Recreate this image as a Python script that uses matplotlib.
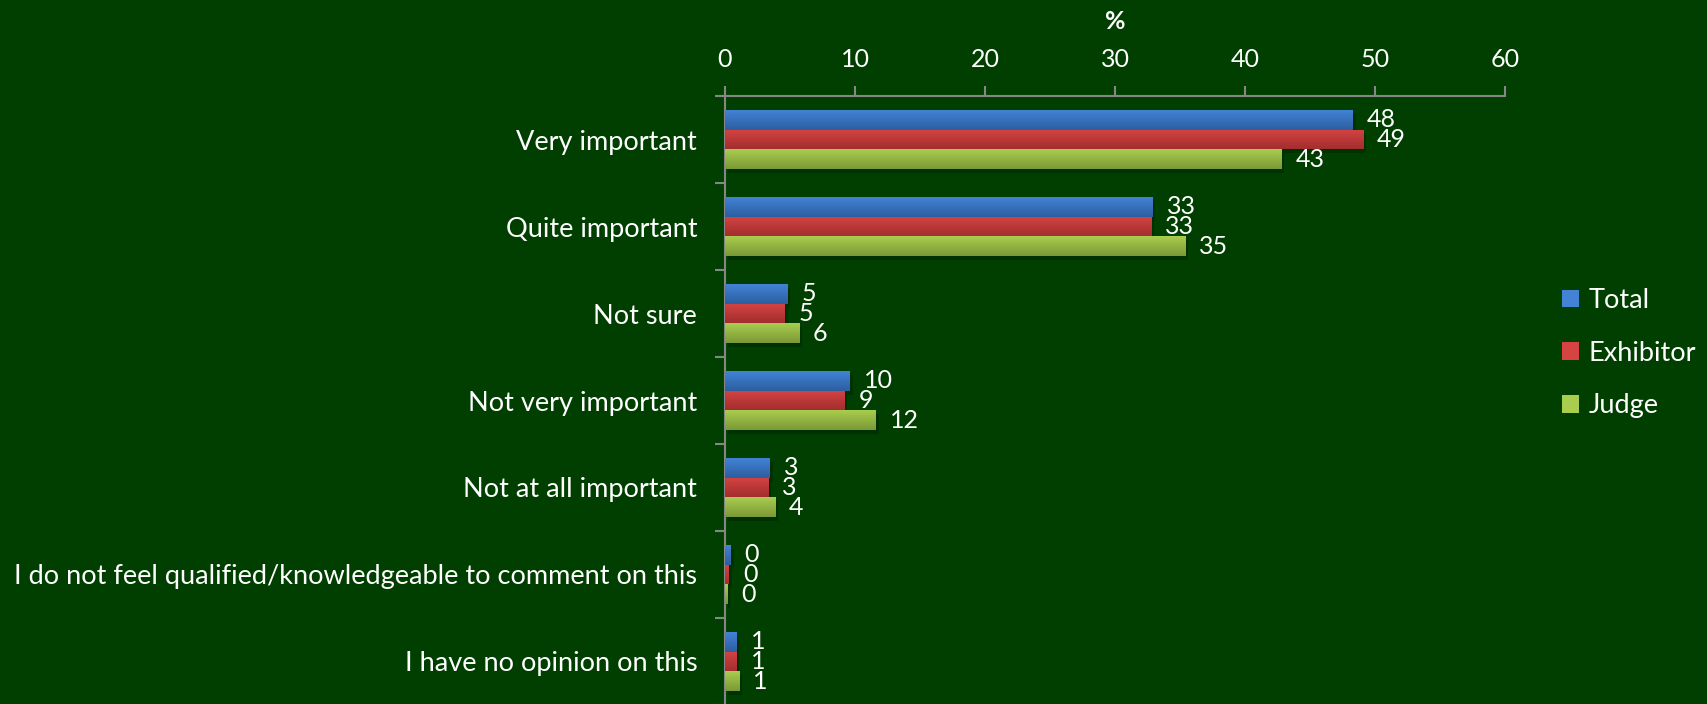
import numpy as np
import matplotlib.pyplot as plt
import matplotlib.patheffects as pe
from matplotlib.colors import LinearSegmentedColormap
from matplotlib.patches import Patch

categories = ['Very important', 'Quite important', 'Not sure', 'Not very important',
              'Not at all important',
              'I do not feel qualified/knowledgeable to comment on this',
              'I have no opinion on this']
series = ['Total', 'Exhibitor', 'Judge']
total = [48.3, 32.9, 4.8, 9.6, 3.45, 0.45, 0.9]
exhibitor = [49.1, 32.8, 4.6, 9.2, 3.35, 0.3, 0.9]
judge = [42.8, 35.4, 5.7, 11.6, 3.85, 0.2, 1.1]
xticks = [0, 10, 20, 30, 40, 50, 60]

# top / bottom shade for each series
shades = [('#4283d6', '#2d5e9f'), ('#d54343', '#a32e2e'), ('#a9cd4e', '#7b9937')]
bg = '#003f00'
axcol = '#868686'
fs = 19.5      # category / legend text
nfs = 18       # numbers

plt.rcParams['font.family'] = ['Lato', 'DejaVu Sans']

fig = plt.figure(figsize=(17.07, 7.04), dpi=100, facecolor=bg)
ax = fig.add_axes([0.4247, -0.0014, 0.4570, 0.8650], facecolor=bg)

y = np.arange(len(categories))
h = 0.225
for i, (name, vals) in enumerate(zip(series, [total, exhibitor, judge])):
    yy = y + (i - 1) * h
    bars = ax.barh(yy, vals, height=h, color=shades[i][1], zorder=2)
    cmap = LinearSegmentedColormap.from_list(name, shades[i])
    grad = np.linspace(0, 1, 64).reshape(-1, 1)
    for b, v, yc in zip(bars, vals, yy):
        b.set_path_effects([pe.SimplePatchShadow(offset=(2, -3), alpha=0.22, shadow_rgbFace='black'),
                            pe.Normal()])
        im = ax.imshow(grad, cmap=cmap, aspect='auto', origin='upper',
                       extent=[0, v, yc + h / 2, yc - h / 2], zorder=3)
        im.set_clip_path(b)
        ax.annotate('{:.0f}'.format(v), (v, yc), xytext=(10, 0), textcoords='offset points',
                    va='center', ha='left', color='white', fontsize=nfs, zorder=4)

ax.set_xlim(0, 60)
ax.set_ylim(len(categories) - 0.5, -0.5)

ax.xaxis.tick_top()
ax.xaxis.set_label_position('top')
ax.set_xticks(xticks)
ax.set_xlabel('%', color='white', fontsize=nfs, fontweight='bold', labelpad=14)
ax.tick_params(axis='x', colors=axcol, labelcolor='white', labelsize=nfs,
               length=7, width=1.5, pad=11, direction='out')

ax.set_yticks(y)
ax.set_yticklabels(categories)
ax.set_yticks(np.arange(len(categories) + 1) - 0.5, minor=True)
ax.tick_params(axis='y', which='major', length=0, labelcolor='white', labelsize=fs, pad=20)
ax.tick_params(axis='y', which='minor', length=7, width=1.5, color=axcol)

for s in ['right', 'bottom']:
    ax.spines[s].set_visible(False)
for s in ['top', 'left']:
    ax.spines[s].set_color(axcol)
    ax.spines[s].set_linewidth(1.5)

handles = [Patch(facecolor=shades[i][0], edgecolor='none') for i in range(3)]
fig.legend(handles, series, loc='upper left', bbox_to_anchor=(0.915, 0.591),
           frameon=False, fontsize=fs, labelcolor='white', handlelength=0.63,
           handleheight=0.63, handletextpad=0.35, labelspacing=1.02,
           borderpad=0, borderaxespad=0)

fig.savefig('out.png', dpi=100, facecolor=bg)
